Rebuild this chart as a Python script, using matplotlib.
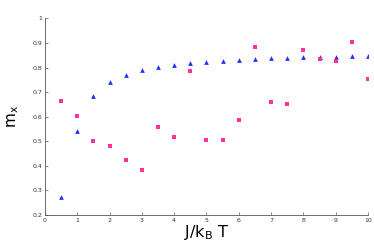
import matplotlib
matplotlib.use("Agg")
import matplotlib.pyplot as plt

x_vals = [0.5, 1.0, 1.5, 2.0, 2.5, 3.0, 3.5, 4.0, 4.5, 5.0,
          5.5, 6.0, 6.5, 7.0, 7.5, 8.0, 8.5, 9.0, 9.5, 10.0]
blue_vals = [0.272, 0.542, 0.684, 0.742, 0.771, 0.791, 0.803, 0.811, 0.819, 0.824,
             0.828, 0.832, 0.836, 0.837, 0.840, 0.841, 0.843, 0.844, 0.845, 0.847]
pink_vals = [0.662, 0.603, 0.501, 0.481, 0.423, 0.384, 0.557, 0.517, 0.785, 0.506,
             0.504, 0.588, 0.885, 0.658, 0.651, 0.872, 0.836, 0.828, 0.902, 0.753]
x_ticks = [0, 1, 2, 3, 4, 5, 6, 7, 8, 9, 10]
y_ticks = [0.2, 0.3, 0.4, 0.5, 0.6, 0.7, 0.8, 0.9, 1.0]
y_tick_labels = ["0.2", "0.3", "0.4", "0.5", "0.6", "0.7", "0.8", "0.9", "1"]

fig = plt.figure(figsize=(3.74, 2.42), dpi=100)
ax = fig.add_axes([0.120, 0.112, 0.864, 0.812])

ax.plot(x_vals, blue_vals, linestyle="none", marker="^", markersize=3.4,
        color="#1f2fff", markeredgewidth=0)
ax.plot(x_vals, pink_vals, linestyle="none", marker="s", markersize=2.9,
        color="#ff3399", markeredgewidth=0)

ax.set_xlim(0, 10)
ax.set_ylim(0.2, 1.0)
ax.set_xticks(x_ticks)
ax.set_xticklabels([str(t) for t in x_ticks])
ax.set_yticks(y_ticks)
ax.set_yticklabels(y_tick_labels)

for s in ["top", "right"]:
    ax.spines[s].set_visible(False)
for s in ["left", "bottom"]:
    ax.spines[s].set_color("#555555")
    ax.spines[s].set_linewidth(0.6)
ax.tick_params(direction="in", length=2, width=0.5, colors="#555555",
               labelsize=4.5, labelcolor="#333333", pad=2)

ax.set_xlabel(r"J/k$_\mathrm{B}$ T", fontsize=11.5, labelpad=0)
ax.set_ylabel(r"m$_\mathrm{x}$", fontsize=11, labelpad=8)

fig.savefig("out.png", dpi=100)
